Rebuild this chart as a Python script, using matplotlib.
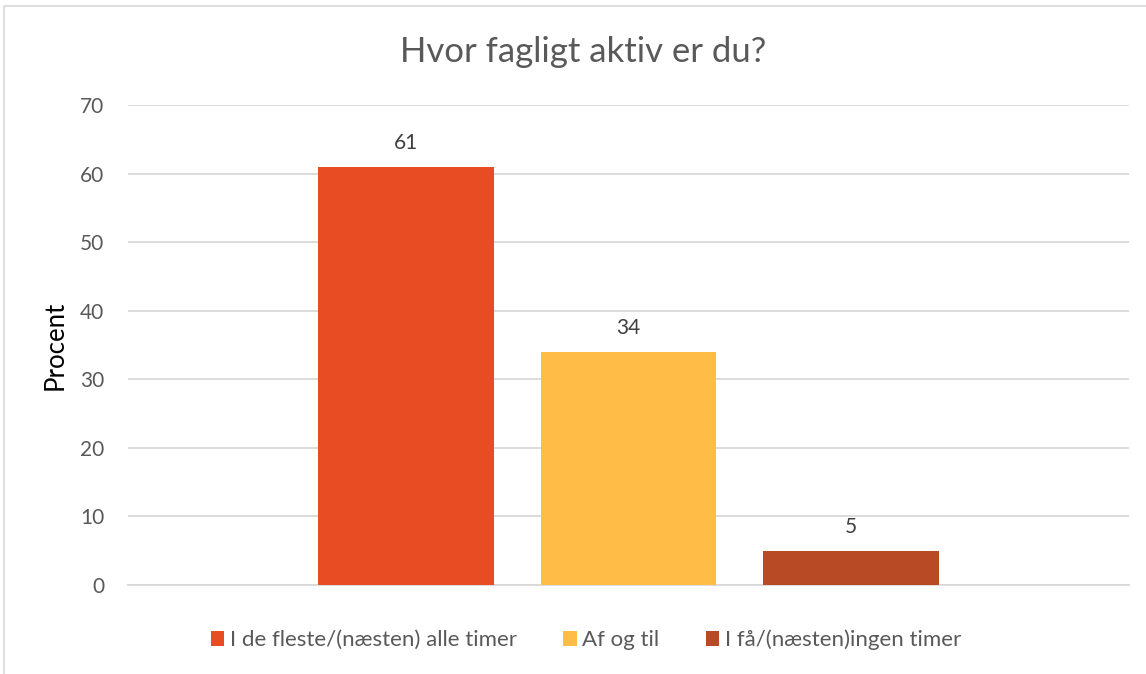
import matplotlib
matplotlib.use("Agg")
import matplotlib.pyplot as plt
from matplotlib.patches import Rectangle

plt.rcParams['font.family'] = ['Lato', 'DejaVu Sans']

title = "Hvor fagligt aktiv er du?"
series_names = ["I de fleste/(næsten) alle timer", "Af og til", "I få/(næsten)ingen timer"]
values = [61, 34, 5]
colors = ["#E84C22", "#FFBD47", "#B84A26"]
y_ticks = [0, 10, 20, 30, 40, 50, 60, 70]
y_label = "Procent"

fig = plt.figure(figsize=(11.46, 6.74), dpi=100)
fig.patches.append(Rectangle((4/1146, -0.01), 1.1, (674-6)/674 + 0.01, transform=fig.transFigure,
                             fill=False, edgecolor="#D9D9D9", linewidth=1.2))

ax = fig.add_axes([128/1146, (674-585)/674, 1001/1146, 480/674])
width = 0.1758
step = 0.2223
handles = []
for i, (name, v, c) in enumerate(zip(series_names, values, colors)):
    x = (i - 1) * step
    b = ax.bar(x, v, width=width, color=c, label=name, zorder=3)
    handles.append(b)
    ax.text(x, v + 2.0, f"{v}", ha="center", va="bottom", fontsize=15, color="#404040")

ax.set_xlim(-0.5, 0.5)
ax.set_ylim(0, 70)
ax.set_yticks(y_ticks)
ax.set_yticklabels([str(t) for t in y_ticks], fontsize=15, color="#595959")
ax.set_xticks([])
ax.grid(axis="y", color="#D9D9D9", linewidth=1.3, zorder=0)
for s in ["top", "right", "left"]:
    ax.spines[s].set_visible(False)
ax.spines["bottom"].set_color("#D9D9D9")
ax.spines["bottom"].set_linewidth(1.3)
ax.tick_params(axis="y", length=0, pad=17)
ax.set_ylabel(y_label, fontsize=18.5, color="black", labelpad=9)

fig.text(583/1146, 1 - 52/674, title, ha="center", va="center", fontsize=25, color="#595959")

fig.legend(handles=handles, labels=series_names, loc="center", bbox_to_anchor=(586/1146, 1 - 640/674),
           ncol=3, frameon=False, fontsize=16, handlelength=0.6, handleheight=0.6,
           handletextpad=0.25, columnspacing=2.1, labelcolor="#595959")

fig.savefig("out.png", dpi=100)
